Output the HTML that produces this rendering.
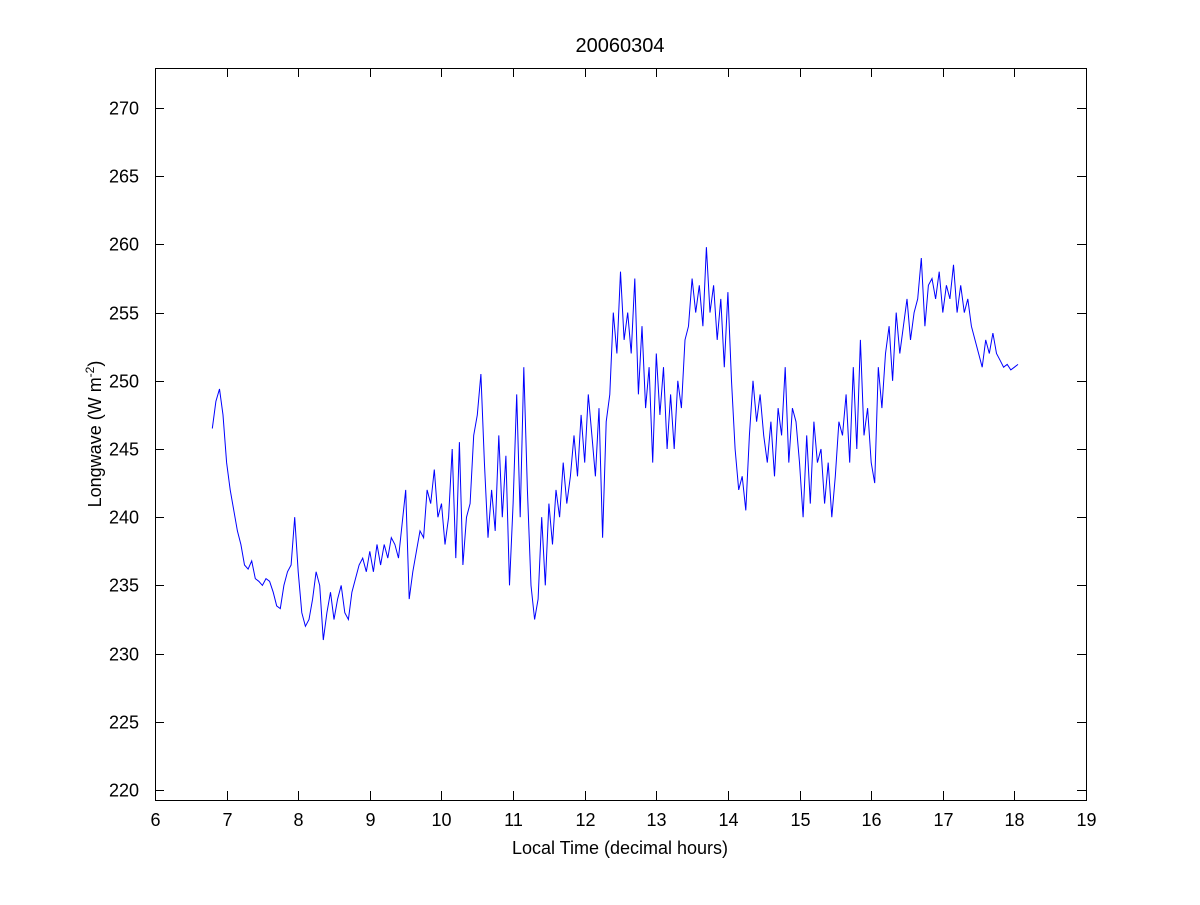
<!DOCTYPE html>
<html><head><meta charset="utf-8"><style>
body{margin:0;background:#fff;}
svg text{font-family:"Liberation Sans",sans-serif;fill:#000;}
</style></head><body>
<svg id="chart" width="1200" height="900">
<rect width="1200" height="900" fill="#fff"/>
<g id="ticks"></g>
<path id="series" fill="none" stroke="#0000ff" stroke-width="1"/>
<rect x="155.5" y="68.5" width="931" height="732" fill="none" stroke="#000" stroke-width="1"/>
<text x="620" y="52" font-size="20" text-anchor="middle">20060304</text>
<text x="620" y="854" font-size="18" text-anchor="middle">Local Time (decimal hours)</text>
<text transform="translate(101,434) rotate(-90)" font-size="18" text-anchor="middle">Longwave (W m<tspan baseline-shift="super" font-size="12">-2</tspan>)</text>
</svg>
<script>
const xTicks=[6,7,8,9,10,11,12,13,14,15,16,17,18,19];
const yTicks=[220,225,230,235,240,245,250,255,260,265,270];
const startTime=6.8;
const timeStep=0.05;
const values=[246.5,248.5,249.4,247.5,244,
242,240.5,239,238,236.5,236.2,236.8,235.5,235.3,235,235.5,235.3,234.5,233.5,233.3,235,236,236.5,240,236,
233,232,232.5,234,236,235,231,233,234.5,232.5,234,235,233,232.5,234.5,235.5,236.5,237,236,237.5,
236,238,236.5,238,237,238.5,238,237,239.5,242,234,236,237.5,239,238.5,242,241,243.5,240,241,
238,240,245,237,245.5,236.5,240,241,246,247.5,250.5,244,238.5,242,239,246,240,244.5,235,241,
249,240,251,242,235,232.5,234,240,235,241,238,242,240,244,241,243,246,243,247.5,244,
249,246,243,248,238.5,247,249,255,252,258,253,255,252,257.5,249,254,248,251,244,252,
247.5,251,245,249,245,250,248,253,254,257.5,255,257,254,259.8,255,257,253,256,251,256.5,
250,245,242,243,240.5,246,250,247,249,246,244,247,243,248,246,251,244,248,247,244,
240,246,241,247,244,245,241,244,240,243,247,246,249,244,251,245,253,246,248,244,
242.5,251,248,252,254,250,255,252,254,256,253,255,256,259,254,257,257.5,256,258,255,
257,256,258.5,255,257,255,256,254,253,252,251,253,252,253.5,252,251.5,251,251.2,250.8,251,
251.2];
const X0=155,X1=1086,XMIN=6,XMAX=19;
const Y0=800,Y1=68,YMIN=219.27,YMAX=272.93;
function sx(v){return X0+(v-XMIN)/(XMAX-XMIN)*(X1-X0);}
function sy(v){return Y0-(v-YMIN)/(YMAX-YMIN)*(Y0-Y1);}
const NS="http://www.w3.org/2000/svg";
const g=document.getElementById('ticks');
function mk(tag,attrs){const e=document.createElementNS(NS,tag);for(const k in attrs)e.setAttribute(k,attrs[k]);g.appendChild(e);return e;}
xTicks.forEach(t=>{
 const x=Math.round(sx(t))+0.5;
 const a=mk('line',{x1:x,x2:x,y1:800,y2:791,stroke:'#000'});
 
 
 const b=mk('line',{x1:x,x2:x,y1:68,y2:77,stroke:'#000'});
 
 
 const l=mk('text',{x:x,y:826,'font-size':18,'text-anchor':'middle'});
 l.textContent=t;
 
 
});
yTicks.forEach(t=>{
 const y=Math.round(sy(t))+0.5;
 const a=mk('line',{x1:155,x2:164,y1:y,y2:y,stroke:'#000'});
 
 
 const b=mk('line',{x1:1086,x2:1077,y1:y,y2:y,stroke:'#000'});
 
 
 const l=mk('text',{x:139,y:y+6,'font-size':18,'text-anchor':'end'});
 l.textContent=t;
 
 
});
let d='';
values.forEach((v,i)=>{d+=(i?'L':'M')+sx(startTime+i*timeStep).toFixed(1)+','+sy(v).toFixed(1);});
document.getElementById('series').setAttribute('d',d);
</script>
</body></html>
